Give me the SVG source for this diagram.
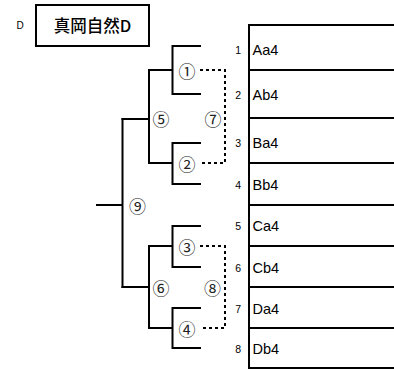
<svg xmlns="http://www.w3.org/2000/svg" width="394" height="370" viewBox="0 0 394 370">
<style>
.ln{stroke:#000;stroke-width:2;fill:none;stroke-linecap:square}
.dt{stroke:#000;stroke-width:2;fill:none;stroke-dasharray:3,3}
.num{font-family:"Liberation Sans",Arial,sans-serif;font-size:10.5px;fill:#000;text-anchor:end}
.nm{font-family:"Liberation Sans",Arial,sans-serif;font-size:14.5px;fill:#000}
.cn{font-family:"Noto Sans CJK JP",sans-serif;font-size:17px;fill:#222;text-anchor:middle;dominant-baseline:central}
</style>
<rect width="394" height="370" fill="#fff"/>
<g id="title">
<text x="20" y="29" font-family="Liberation Sans,Arial,sans-serif" font-size="10" text-anchor="middle">D</text>
<rect x="36" y="5" width="113" height="41" class="ln"/>
<text x="92.5" y="32" font-family="Noto Sans CJK JP,sans-serif" font-size="16.5" font-weight="500" text-anchor="middle">真岡自然D</text>
</g>
<g id="table">
<path class="ln" d="M249,25V368M249,25H394M249,70H394M249,118H394M249,163H394M249,205H394M249,246H394M249,287H394M249,328H394M249,368H394"/>
</g>
<g id="row1"><text class="num" x="241" y="54">1</text><text class="nm" x="252.5" y="55">Aa4</text></g>
<g id="row2"><text class="num" x="241" y="99">2</text><text class="nm" x="252.5" y="100">Ab4</text></g>
<g id="row3"><text class="num" x="241" y="147">3</text><text class="nm" x="252.5" y="148">Ba4</text></g>
<g id="row4"><text class="num" x="241" y="189">4</text><text class="nm" x="252.5" y="190">Bb4</text></g>
<g id="row5"><text class="num" x="241" y="230">5</text><text class="nm" x="252.5" y="231">Ca4</text></g>
<g id="row6"><text class="num" x="241" y="271.5">6</text><text class="nm" x="252.5" y="272.5">Cb4</text></g>
<g id="row7"><text class="num" x="241" y="313">7</text><text class="nm" x="252.5" y="314">Da4</text></g>
<g id="row8"><text class="num" x="241" y="353">8</text><text class="nm" x="252.5" y="354">Db4</text></g>
<g id="connectors">
<path class="ln" d="M200,46H172.5V94H200M172.5,70H149"/>
<path class="ln" d="M200,143H172.5V184H200M172.5,163H149"/>
<path class="ln" d="M200,226H172.5V267H200M172.5,246H149"/>
<path class="ln" d="M200,308H172.5V348H200M172.5,328H149"/>
<path class="ln" d="M149,70V163M149,119H122.5"/>
<path class="ln" d="M149,246V328M149,287H122.5"/>
<path class="ln" d="M122.5,119V287M122.5,205H97"/>
<path class="dt" d="M200,70H225V163H200"/>
<path class="dt" d="M200,246H225V328H200"/>
</g>
<g id="m1"><text class="cn" x="187" y="70">①</text></g>
<g id="m2"><text class="cn" x="187" y="163">②</text></g>
<g id="m3"><text class="cn" x="187" y="246">③</text></g>
<g id="m4"><text class="cn" x="187" y="328">④</text></g>
<g id="m5"><text class="cn" x="161" y="118">⑤</text></g>
<g id="m6"><text class="cn" x="161" y="287">⑥</text></g>
<g id="m7"><text class="cn" x="213" y="118">⑦</text></g>
<g id="m8"><text class="cn" x="212.5" y="287">⑧</text></g>
<g id="m9"><text class="cn" x="137.5" y="205">⑨</text></g>
</svg>
